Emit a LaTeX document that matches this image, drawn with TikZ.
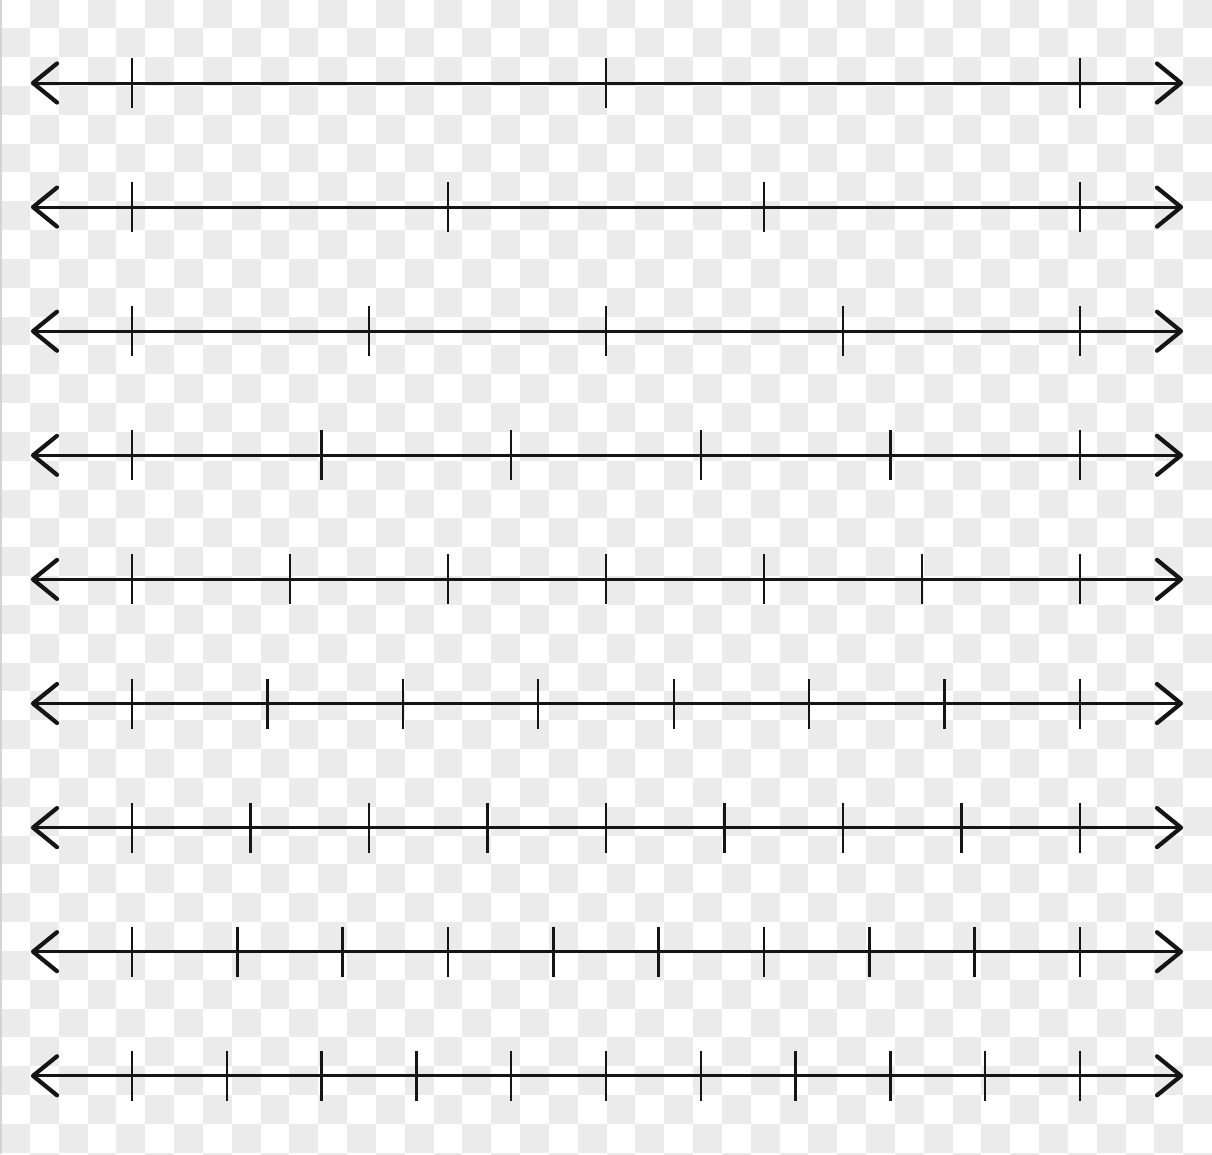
\documentclass[tikz,border=0pt]{standalone}
\usetikzlibrary{calc}
\definecolor{checker}{HTML}{EBEBEB}
\definecolor{edgegrey}{HTML}{D4D4D4}
\definecolor{ink}{HTML}{151515}
\tikzset{
  axisline/.style={draw=ink, line width=3pt},
  chevron/.style={draw=ink, line width=4.2pt, line cap=round, line join=round},
  tickmark/.style={draw=ink, line width=2.4pt},
}
\begin{document}
\begin{tikzpicture}[x=1pt,y=-1pt]
\useasboundingbox (0,0) rectangle (1212,1154);
\fill[white] (0,0) rectangle (1212,1154);
\begin{scope}
\clip (0,0) rectangle (1212,1154);
\foreach \i in {0,...,42}{
  \foreach \j in {0,...,40}{
    \pgfmathtruncatemacro\parity{mod(\i+\j,2)}
    \ifnum\parity=1
      \fill[checker] ({1.17+\i*28.83},{-0.5+\j*28.83}) rectangle ++(28.83,28.83);
    \fi
  }
}
\fill[edgegrey] (0,0) rectangle (1.5,1154);
\end{scope}
\foreach \r in {1,...,9}{
  \pgfmathsetmacro\yy{83+(\r-1)*124.1}
  \pgfmathtruncatemacro\nd{\r+1}
  \coordinate (L\r) at (33,\yy);
  \coordinate (R\r) at (1181,\yy);
  \coordinate (La\r) at (57,\yy-19.5);
  \coordinate (Lb\r) at (57,\yy+19.5);
  \coordinate (Ra\r) at (1157,\yy-19.5);
  \coordinate (Rb\r) at (1157,\yy+19.5);
  \draw[axisline] (L\r) -- (R\r);
  \draw[chevron] (La\r) -- (L\r) -- (Lb\r);
  \draw[chevron] (Ra\r) -- (R\r) -- (Rb\r);
  \foreach \k in {0,...,\nd}{
    \pgfmathsetmacro\xx{132+948*\k/\nd}
    \coordinate (T\r-\k) at (\xx,\yy-25);
    \coordinate (B\r-\k) at (\xx,\yy+25);
    \draw[tickmark] (T\r-\k) -- (B\r-\k);
  }
}
\end{tikzpicture}
\end{document}
